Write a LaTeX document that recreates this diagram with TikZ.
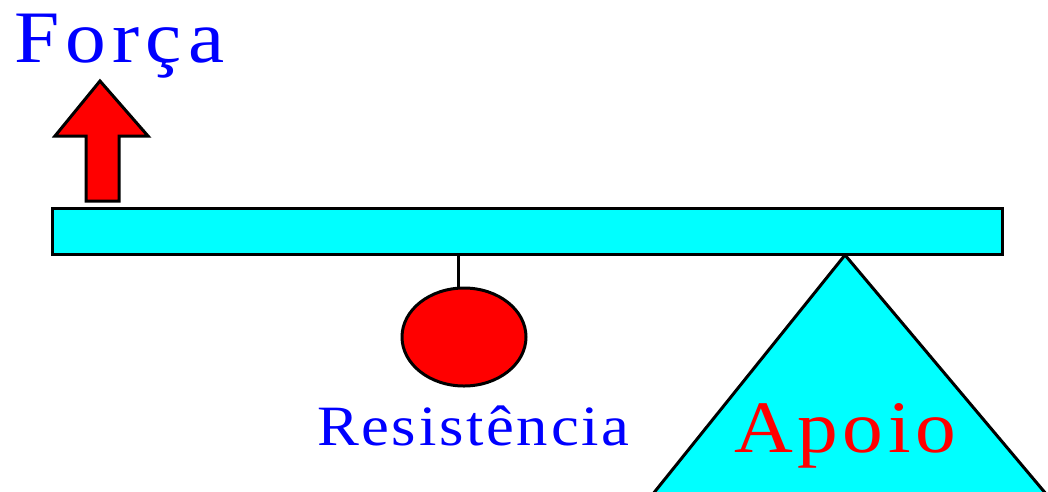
\documentclass[tikz,border=0pt]{standalone}
\usepackage{fontspec}
\setmainfont{Liberation Serif}
\usetikzlibrary{shapes.geometric}
\definecolor{cyanfill}{RGB}{0,255,255}
\definecolor{pred}{RGB}{255,0,0}
\definecolor{pblue}{RGB}{0,0,255}
\begin{document}
\begin{tikzpicture}[x=1pt,y=-1pt,
  outline/.style={draw=black,line width=3pt,line join=miter},
  lbl/.style={anchor=base west,inner sep=0pt,outer sep=0pt,xscale=1.1}]
\useasboundingbox (0,0) rectangle (1048,491);
\begin{scope}
\clip (0,0) rectangle (1048,491);
% support triangle
\draw[outline,fill=cyanfill] (845,255) -- (632,520) -- (1068,520) -- cycle;
\end{scope}
% lever
\node[outline,fill=cyanfill,minimum width=950pt,minimum height=46pt,inner sep=0pt,anchor=north west] (bar) at (51,207) {};
% weight
\node[outline,fill=pred,ellipse,minimum width=124pt,minimum height=98pt,inner sep=0pt] (ball) at (464,337) {};
\coordinate (hook) at (458,253);
\draw[line width=3pt] (hook) -- (hook |- ball.north);
% force arrow
\draw[outline,fill=pred] (100,81) -- (148,136) -- (119,136) -- (119,201) -- (86,201) -- (86,136) -- (55,136) -- cycle;
% labels
\node[lbl,text=pblue,font=\fontsize{74}{74}\selectfont\addfontfeature{LetterSpace=7.7}] (forca) at (14,62) {Força};
\node[lbl,text=pblue,font=\fontsize{57}{57}\selectfont\addfontfeature{LetterSpace=4.3}] (resist) at (317,445) {Resistência};
\node[lbl,text=pred,font=\fontsize{74}{74}\selectfont\addfontfeature{LetterSpace=5.8}] (apoio) at (734,452) {Apoio};
\end{tikzpicture}
\end{document}
